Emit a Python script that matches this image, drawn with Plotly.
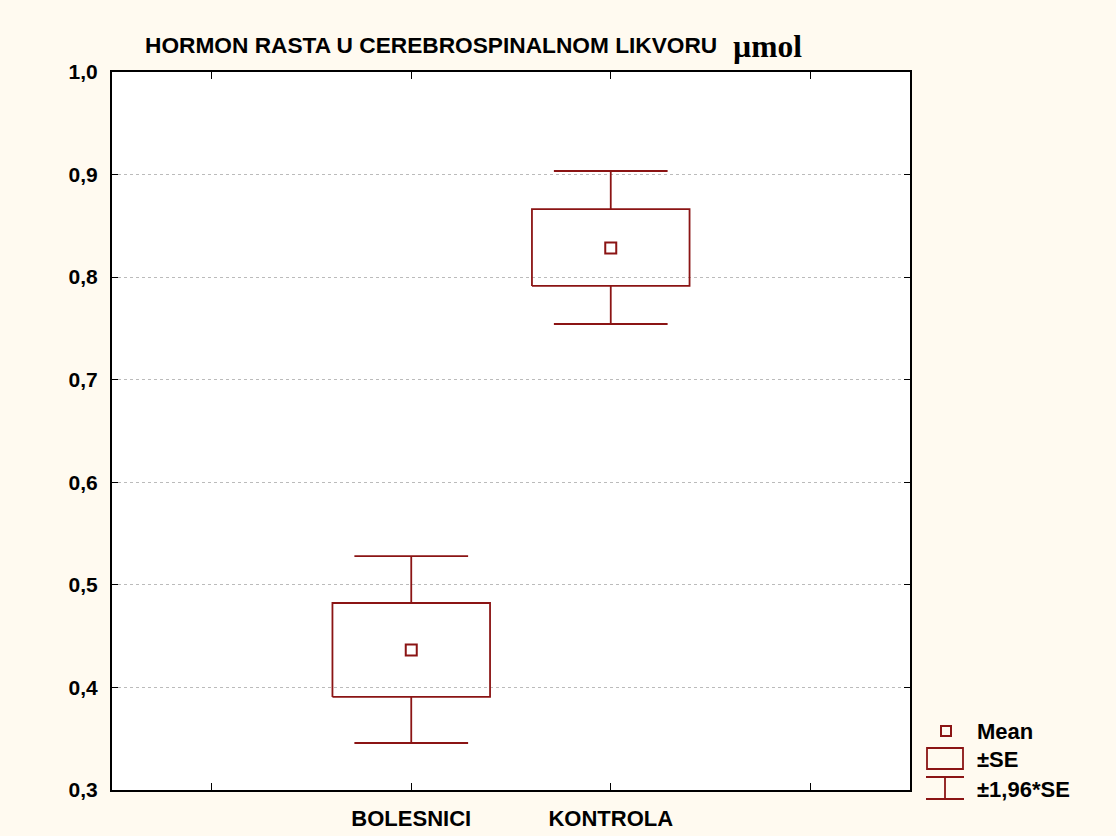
import plotly.graph_objects as go

# ---- data ----
groups = ["BOLESNICI", "KONTROLA"]
group_pos = [1, 2]
means = [0.4365, 0.8284]
se_low = [0.3907, 0.7914]
se_high = [0.4823, 0.8664]
ci_low = [0.3458, 0.7543]
ci_high = [0.5280, 0.9035]

y_ticks = [0.3, 0.4, 0.5, 0.6, 0.7, 0.8, 0.9, 1.0]
x_ticks = [0, 1, 2, 3]
x_ticktext = ["", "BOLESNICI", "KONTROLA", ""]

legend_labels = ["Mean", "±SE", "±1,96*SE"]

# ---- style ----
RED = "#8B1414"
BG = "#FFFAF0"
FONT = "Liberation Sans, Arial, sans-serif"
BOX_HW = 0.395
CAP_HW = 0.285
LW = 1.8

fig = go.Figure()

for i, c in enumerate(group_pos):
    # ±SE box
    fig.add_trace(go.Scatter(
        x=[c - BOX_HW, c + BOX_HW, c + BOX_HW, c - BOX_HW, c - BOX_HW],
        y=[se_low[i], se_low[i], se_high[i], se_high[i], se_low[i]],
        mode="lines", line=dict(color=RED, width=LW),
        showlegend=False, hoverinfo="skip"))
    # whiskers ±1.96*SE
    fig.add_trace(go.Scatter(
        x=[c, c, None, c - CAP_HW, c + CAP_HW, None, c, c, None, c - CAP_HW, c + CAP_HW],
        y=[se_high[i], ci_high[i], None, ci_high[i], ci_high[i], None,
           se_low[i], ci_low[i], None, ci_low[i], ci_low[i]],
        mode="lines", line=dict(color=RED, width=LW),
        showlegend=False, hoverinfo="skip"))

# means
fig.add_trace(go.Scatter(
    x=group_pos, y=means, mode="markers",
    marker=dict(symbol="square-open", size=11, color=RED, line=dict(width=2, color=RED)),
    showlegend=False))

# ---- custom legend (pixel -> paper) ----
L, R, T, B = 112, 910, 72, 790
def px(x):
    return (x - L) / (R - L)
def py(y):
    return (B - y) / (B - T)

shapes = []
shapes.append(dict(type="rect", xref="paper", yref="paper",
                   x0=px(941), x1=px(951), y0=py(736), y1=py(726),
                   line=dict(color=RED, width=2)))
shapes.append(dict(type="rect", xref="paper", yref="paper",
                   x0=px(927), x1=px(963), y0=py(769), y1=py(748),
                   line=dict(color=RED, width=LW)))
for (x0, y0, x1, y1) in [(926, 777, 964, 777), (945, 777, 945, 799), (926, 799, 964, 799)]:
    shapes.append(dict(type="line", xref="paper", yref="paper",
                       x0=px(x0), x1=px(x1), y0=py(y0), y1=py(y1),
                       line=dict(color=RED, width=LW)))

annotations = []
for lab, yy in zip(legend_labels, [731, 759, 789]):
    annotations.append(dict(text=lab, xref="paper", yref="paper",
                            x=px(975), y=py(yy), xanchor="left", yanchor="middle",
                            showarrow=False,
                            font=dict(family=FONT, size=22, color="black", weight="bold")))

annotations.append(dict(
    text="HORMON RASTA U CEREBROSPINALNOM LIKVORU",
    xref="paper", yref="paper", x=px(143), y=py(45), xanchor="left", yanchor="middle",
    showarrow=False, font=dict(family=FONT, size=22.7, color="black", weight="bold")))
annotations.append(dict(
    text="µmol",
    xref="paper", yref="paper", x=px(731), y=py(46), xanchor="left", yanchor="middle",
    showarrow=False,
    font=dict(family="Liberation Serif, Times New Roman, serif", size=31.5, color="black",
              weight="bold")))

fig.update_layout(
    width=1116, height=836, autosize=False,
    margin=dict(l=L, r=1116 - R, t=T, b=836 - B, autoexpand=False),
    paper_bgcolor=BG, plot_bgcolor="white",
    shapes=shapes, annotations=annotations,
    separators=",.",
    showlegend=False,
    font=dict(family=FONT, color="black"),
)

fig.update_xaxes(
    range=[-0.5, 3.5], tickvals=x_ticks, ticktext=x_ticktext,
    ticks="inside", ticklen=7, tickcolor="black", tickwidth=1,
    showline=True, linecolor="black", linewidth=2, mirror="ticks",
    showgrid=False, zeroline=False, automargin=False,
    tickfont=dict(family=FONT, size=22, color="black", weight="bold"),
    ticklabelstandoff=8,
)
fig.update_yaxes(
    range=[0.3, 1.0], tickvals=y_ticks, tickformat=".1f",
    ticks="inside", ticklen=6, tickcolor="black", tickwidth=1,
    showline=True, linecolor="black", linewidth=2, mirror="ticks",
    showgrid=True, gridcolor="#BBBBBB", griddash="dot", gridwidth=1,
    zeroline=False, automargin=False,
    tickfont=dict(family=FONT, size=21, color="black", weight="bold"),
    ticklabelstandoff=8,
)

fig.write_html(
    "out.html",
    config={"displayModeBar": False},
    post_script="document.body.style.margin='0';document.body.style.background='%s';" % BG,
)
